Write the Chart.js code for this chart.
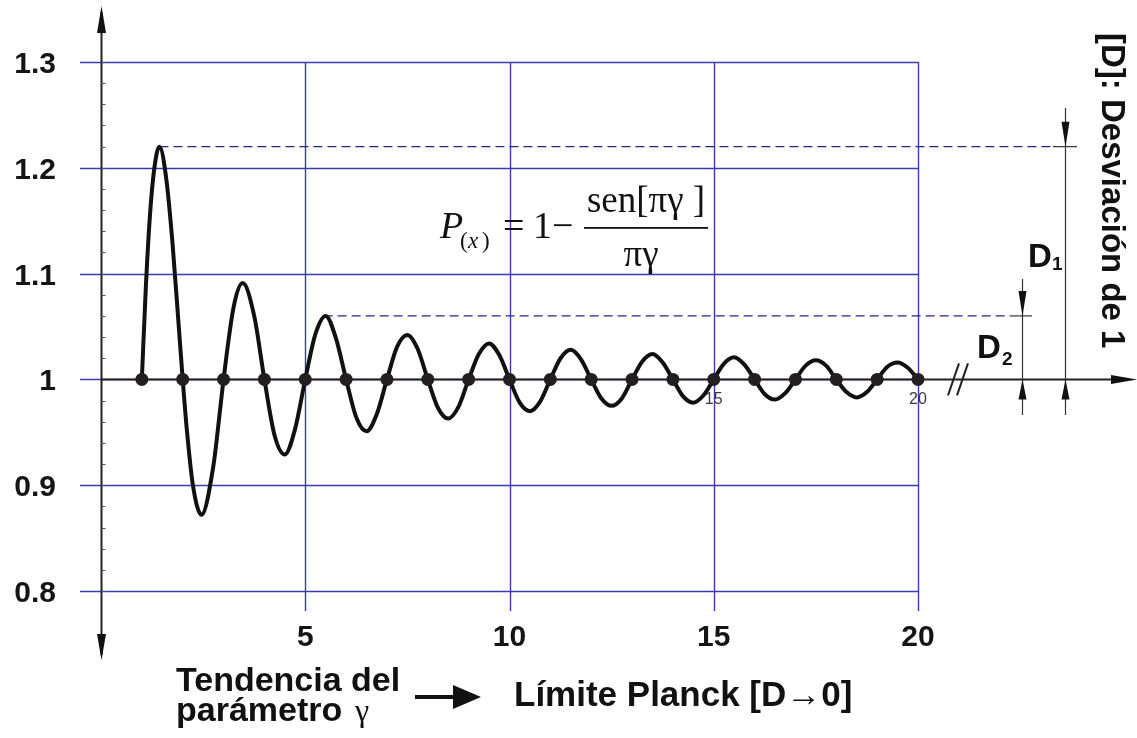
<!DOCTYPE html>
<html>
<head>
<meta charset="utf-8">
<title>P(x) = 1 - sen[πγ]/πγ</title>
<script src="https://cdn.jsdelivr.net/npm/chart.js@4/dist/chart.umd.min.js"></script>
<style>
  html, body { margin: 0; padding: 0; background: #fff; }
  #wrap { width: 1137px; height: 738px; }
</style>
</head>
<body>
<div id="wrap"><canvas id="planckChart" width="1137" height="738"></canvas></div>
<script>
// sampled curve P(γ) along the γ axis
const gammaSamples = [
  1, 1.1, 1.2, 1.3, 1.43, 1.6, 1.75, 1.9, 2,
  2.1, 2.25, 2.46, 2.75, 2.9, 3,
  3.25, 3.47, 3.75, 4,
  4.25, 4.5, 4.75, 5, 5.25, 5.5, 5.75, 6,
  6.25, 6.5, 6.75, 7, 7.25, 7.5, 7.75, 8,
  8.25, 8.5, 8.75, 9, 9.25, 9.5, 9.75, 10,
  10.25, 10.5, 10.75, 11, 11.25, 11.5, 11.75, 12,
  12.25, 12.5, 12.75, 13, 13.25, 13.5, 13.75, 14,
  14.25, 14.5, 14.75, 15, 15.25, 15.5, 15.75, 16,
  16.25, 16.5, 16.75, 17, 17.25, 17.5, 17.75, 18,
  18.25, 18.5, 18.75, 19, 19.25, 19.5, 19.75, 20
];
const pSamples = [
  1, 1.089, 1.156, 1.198, 1.22, 1.189, 1.129, 1.052, 1,
  0.953, 0.900, 0.872, 0.918, 0.966, 1,
  1.069, 1.091, 1.060, 1,
  0.947, 0.929, 0.953, 1, 1.043, 1.06, 1.039, 1,
  0.964, 0.951, 0.967, 1, 1.031, 1.042, 1.029, 1,
  0.973, 0.963, 0.974, 1, 1.024, 1.034, 1.023, 1,
  0.978, 0.970, 0.979, 1, 1.020, 1.028, 1.019, 1,
  0.982, 0.975, 0.982, 1, 1.017, 1.024, 1.016, 1,
  0.984, 0.978, 0.985, 1, 1.015, 1.021, 1.014, 1,
  0.986, 0.981, 0.987, 1, 1.013, 1.018, 1.013, 1,
  0.988, 0.983, 0.988, 1, 1.012, 1.016, 1.011, 1
];

// points where the curve crosses 1 (integer γ)
const crossingGamma = [1, 2, 3, 4, 5, 6, 7, 8, 9, 10, 11, 12, 13, 14, 15, 16, 17, 18, 19, 20];
const crossingP = [1, 1, 1, 1, 1, 1, 1, 1, 1, 1, 1, 1, 1, 1, 1, 1, 1, 1, 1, 1];

// axis ticks
const xTicks = [5, 10, 15, 20];
const xTickLabels = ['5', '10', '15', '20'];
const yTicks = [0.8, 0.9, 1.0, 1.1, 1.2, 1.3];
const yTickLabels = ['0.8', '0.9', '1', '1.1', '1.2', '1.3'];
const smallLabelGamma = [15, 20];

// peaks used for the deviation marks D1 and D2
const d1PeakIndex = 4;
const d2PeakIndex = 24;

const SANS = '"Liberation Sans", Arial, sans-serif';
const SERIF = '"Liberation Serif", "Times New Roman", serif';

function arrowHead(ctx, tipX, tipY, dir, len, half) {
  // dir: 'up' | 'down' | 'right'
  ctx.beginPath();
  ctx.moveTo(tipX, tipY);
  if (dir === 'up') { ctx.lineTo(tipX - half, tipY + len); ctx.lineTo(tipX + half, tipY + len); }
  if (dir === 'down') { ctx.lineTo(tipX - half, tipY - len); ctx.lineTo(tipX + half, tipY - len); }
  if (dir === 'right') { ctx.lineTo(tipX - len, tipY - half); ctx.lineTo(tipX - len, tipY + half); }
  ctx.closePath();
  ctx.fill();
}

const framePlugin = {
  id: 'frame',
  beforeDatasetsDraw(chart) {
    const ctx = chart.ctx;
    const xs = chart.scales.x, ys = chart.scales.y;
    const area = chart.chartArea;
    ctx.save();

    // blue grid
    ctx.strokeStyle = '#3a3ab2';
    ctx.lineWidth = 1.4;
    yTicks.forEach(v => {
      const y = Math.round(ys.getPixelForValue(v)) + 0.5;
      ctx.beginPath(); ctx.moveTo(area.left - 21, y); ctx.lineTo(area.right, y); ctx.stroke();
    });
    xTicks.forEach(v => {
      const x = Math.round(xs.getPixelForValue(v)) + 0.5;
      ctx.beginPath(); ctx.moveTo(x, area.top); ctx.lineTo(x, area.bottom + 20); ctx.stroke();
    });

    // vertical axis with arrows both ends
    const ax = xs.getPixelForValue(0) + 0.5;
    ctx.strokeStyle = '#222';
    ctx.fillStyle = '#111';
    ctx.lineWidth = 2;
    ctx.beginPath(); ctx.moveTo(ax, 12); ctx.lineTo(ax, 655); ctx.stroke();
    arrowHead(ctx, ax, 6, 'up', 27, 4.5);
    arrowHead(ctx, ax, 660, 'down', 26, 4.5);

    // minor ticks every 0.02
    ctx.strokeStyle = '#555';
    ctx.lineWidth = 1;
    for (let i = 0; i <= 25; i++) {
      const y = Math.round(ys.getPixelForValue(0.8 + i * 0.02)) + 0.5;
      ctx.beginPath(); ctx.moveTo(ax, y); ctx.lineTo(ax + 4, y); ctx.stroke();
    }

    // horizontal axis at P = 1
    const ay = ys.getPixelForValue(1);
    ctx.strokeStyle = '#222';
    ctx.lineWidth = 2;
    ctx.beginPath(); ctx.moveTo(ax, ay); ctx.lineTo(1115, ay); ctx.stroke();
    arrowHead(ctx, 1137, ay, 'right', 26, 4.5);

    // axis break
    ctx.lineWidth = 2;
    ctx.beginPath(); ctx.moveTo(948, ay + 16); ctx.lineTo(959, ay - 16); ctx.stroke();
    ctx.beginPath(); ctx.moveTo(957, ay + 16); ctx.lineTo(968, ay - 16); ctx.stroke();

    // dashed peak levels
    ctx.strokeStyle = '#24248c';
    ctx.lineWidth = 1.3;
    ctx.setLineDash([9, 5]);
    const p1x = xs.getPixelForValue(gammaSamples[d1PeakIndex]);
    const p1y = ys.getPixelForValue(pSamples[d1PeakIndex]);
    const p2x = xs.getPixelForValue(gammaSamples[d2PeakIndex] - 0.05);
    const p2y = ys.getPixelForValue(pSamples[d2PeakIndex]);
    ctx.beginPath(); ctx.moveTo(p1x, p1y); ctx.lineTo(1055, p1y); ctx.stroke();
    ctx.beginPath(); ctx.moveTo(p2x, p2y); ctx.lineTo(1010, p2y); ctx.stroke();
    ctx.setLineDash([]);

    // dimension lines D1 / D2
    ctx.strokeStyle = '#333';
    ctx.fillStyle = '#111';
    ctx.lineWidth = 1.2;
    const d1x = 1065.5, d2x = 1022.5;
    ctx.beginPath(); ctx.moveTo(1053, p1y); ctx.lineTo(1077, p1y); ctx.stroke();
    ctx.beginPath(); ctx.moveTo(1010, p2y); ctx.lineTo(1032, p2y); ctx.stroke();
    ctx.beginPath(); ctx.moveTo(d1x, 108); ctx.lineTo(d1x, 415); ctx.stroke();
    ctx.beginPath(); ctx.moveTo(d2x, 279); ctx.lineTo(d2x, 415); ctx.stroke();
    arrowHead(ctx, d1x, p1y, 'down', 25, 4);
    arrowHead(ctx, d1x, ay, 'up', 20, 4);
    arrowHead(ctx, d2x, p2y, 'down', 25, 4);
    arrowHead(ctx, d2x, ay, 'up', 20, 4);

    ctx.restore();
  },
  afterDatasetsDraw(chart) {
    const ctx = chart.ctx;
    const xs = chart.scales.x, ys = chart.scales.y;
    ctx.save();
    ctx.fillStyle = '#151515';

    // tick labels
    ctx.font = 'bold 30px ' + SANS;
    ctx.textAlign = 'right';
    ctx.textBaseline = 'alphabetic';
    yTicks.forEach((v, i) => {
      ctx.fillText(yTickLabels[i], 56, ys.getPixelForValue(v) + 11);
    });
    ctx.textAlign = 'center';
    xTicks.forEach((v, i) => {
      ctx.fillText(xTickLabels[i], xs.getPixelForValue(v), 646);
    });

    // small labels under the last crossings
    ctx.font = '16px ' + SANS;
    ctx.fillStyle = '#3a3a3a';
    smallLabelGamma.forEach(g => {
      ctx.fillText(String(g), xs.getPixelForValue(g), 404);
    });

    // bottom caption
    ctx.fillStyle = '#111';
    ctx.textAlign = 'left';
    ctx.font = 'bold 34px ' + SANS;
    ctx.fillText('Tendencia del', 176, 691);
    ctx.fillText('parámetro', 176, 721);
    ctx.font = '32px ' + SERIF;
    ctx.fillText('γ', 355, 721);
    ctx.fillRect(415, 695, 40, 4);
    arrowHead(ctx, 481, 697, 'right', 28, 12);
    ctx.font = 'bold 35px ' + SANS;
    ctx.fillText('Límite Planck [D→0]', 514, 706);

    // formula
    ctx.font = 'italic 38px ' + SERIF;
    ctx.fillText('P', 440, 238);
    ctx.font = '23px ' + SERIF;
    ctx.fillText('(', 460, 248);
    ctx.fillText(')', 482, 248);
    ctx.font = 'italic 23px ' + SERIF;
    ctx.fillText('x', 468, 248);
    ctx.font = '38px ' + SERIF;
    ctx.fillText('=', 503, 238);
    ctx.fillText('1', 533, 238);
    ctx.fillText('\u2212', 552, 238);
    ctx.fillRect(584, 227, 124, 1.8);
    ctx.textAlign = 'center';
    ctx.font = '37px ' + SERIF;
    ctx.fillText('sen[πγ ]', 646, 212);
    ctx.fillText('πγ', 641, 266);

    // D1, D2 labels
    ctx.textAlign = 'left';
    ctx.font = 'bold 33px ' + SANS;
    ctx.fillText('D', 1028, 267);
    ctx.fillText('D', 977, 358);
    ctx.font = 'bold 19px ' + SANS;
    ctx.fillText('1', 1052, 270);
    ctx.fillText('2', 1002, 365);

    // rotated side title
    ctx.translate(1102, 33);
    ctx.rotate(Math.PI / 2);
    ctx.font = 'bold 33px ' + SANS;
    ctx.fillText('[D]: Desviación de 1', 0, 0);

    ctx.restore();
  }
};

new Chart(document.getElementById('planckChart'), {
  type: 'line',
  data: {
    datasets: [
      {
        label: 'cruces',
        data: crossingGamma.map((g, i) => ({ x: g, y: crossingP[i] })),
        showLine: false,
        pointRadius: 6.5,
        pointBackgroundColor: '#231f20',
        pointBorderWidth: 0,
        clip: false,
        order: 0
      },
      {
        label: 'P(x)',
        data: gammaSamples.map((g, i) => ({ x: g, y: pSamples[i] })),
        borderColor: '#111',
        borderWidth: 4,
        pointRadius: 0,
        fill: false,
        cubicInterpolationMode: 'monotone',
        clip: false,
        order: 1
      }
    ]
  },
  options: {
    responsive: false,
    animation: false,
    events: [],
    layout: { padding: { left: 101, right: 219, top: 62, bottom: 147 } },
    plugins: { legend: { display: false }, tooltip: { enabled: false } },
    scales: {
      x: { type: 'linear', min: 0, max: 20, display: false },
      y: { type: 'linear', min: 0.8, max: 1.3, display: false }
    }
  },
  plugins: [framePlugin]
});
</script>
</body>
</html>
